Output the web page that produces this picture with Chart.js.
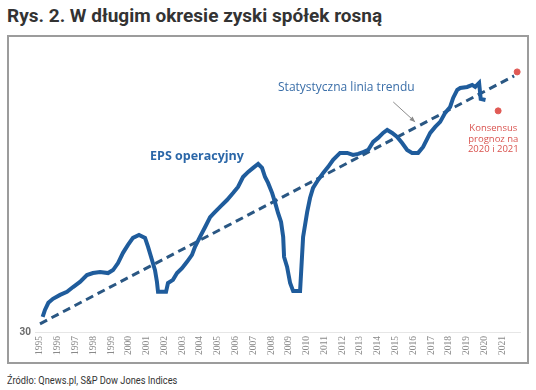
<!DOCTYPE html>
<html>
<head>
<meta charset="utf-8">
<script src="https://cdn.jsdelivr.net/npm/chart.js@4.4.0/dist/chart.umd.min.js"></script>
<style>
  body { margin: 0; width: 536px; height: 390px; background: #fff; position: relative; overflow: hidden; }
  #title { position: absolute; left: 7px; top: 4px; font: bold 19px Roboto, sans-serif; color: #333; white-space: nowrap; }
  #box { position: absolute; left: 7px; top: 35px; width: 518px; height: 325px; border: 2px solid #9c9c9c; }
  #source { position: absolute; left: 7px; top: 374px; font: 11px Roboto, sans-serif; color: #333; white-space: nowrap;
            transform: scaleX(0.84); transform-origin: left center; }
</style>
</head>
<body>
<div id="title">Rys. 2. W długim okresie zyski spółek rosną</div>
<div id="box"><canvas id="chart" width="518" height="325"></canvas></div>
<div id="source">Źródło: Qnews.pl, S&amp;P Dow Jones Indices</div>
<script>
"use strict";

// lata na osi X
const years = [1995, 1996, 1997, 1998, 1999, 2000, 2001, 2002, 2003, 2004, 2005, 2006, 2007,
    2008, 2009, 2010, 2011, 2012, 2013, 2014, 2015, 2016, 2017, 2018, 2019, 2020, 2021];

// EPS operacyjny (odczyt z wykresu)
const epsX = [1995.15, 1995.28, 1995.47, 1995.73, 1996.13, 1996.52, 1996.86, 1997.25, 1997.64, 1997.98,
    1998.38, 1998.83, 1999.11, 1999.39, 1999.67, 1999.95, 2000.23, 2000.57, 2000.91, 2001.08,
    2001.30, 2001.47, 2001.58, 2001.64, 2002.09, 2002.20, 2002.48, 2002.71, 2002.99, 2003.27,
    2003.55, 2003.72, 2004.00, 2004.29, 2004.57, 2004.85, 2005.13, 2005.52, 2005.86, 2006.14,
    2006.42, 2006.71, 2006.99, 2007.27, 2007.49, 2007.66, 2007.83, 2008.06, 2008.23, 2008.39,
    2008.56, 2008.68, 2008.73, 2008.90, 2009.07, 2009.24, 2009.63, 2009.80, 2010.03, 2010.19,
    2010.36, 2010.64, 2010.93, 2011.21, 2011.49, 2011.88, 2012.28, 2012.61, 2012.90, 2013.18,
    2013.46, 2013.74, 2014.02, 2014.30, 2014.53, 2014.81, 2015.09, 2015.37, 2015.65, 2015.93,
    2016.27, 2016.55, 2016.95, 2017.23, 2017.51, 2017.79, 2018.07, 2018.24, 2018.47, 2018.64,
    2019.03, 2019.31, 2019.48, 2019.70, 2019.79, 2020.06];
const epsY = [33.2, 34.8, 36.5, 37.5, 38.5, 39.3, 40.6, 42.0, 44.0, 44.6,
    44.9, 44.6, 45.5, 47.7, 51.1, 53.9, 56.5, 57.6, 56.5, 53.2,
    48.7, 45.5, 42.0, 39.3, 39.3, 41.7, 42.6, 44.6, 46.1, 48.1,
    50.4, 53.2, 56.9, 60.8, 65.0, 67.3, 69.6, 72.9, 76.4, 79.6,
    85.1, 88.1, 90.5, 92.9, 90.5, 85.1, 81.8, 76.4, 71.5, 66.8,
    62.9, 56.9, 49.7, 46.5, 41.7, 39.5, 39.5, 56.9, 67.3, 73.9,
    79.1, 83.4, 87.5, 91.1, 95.5, 100.1, 100.1, 98.7, 99.4, 100.7,
    102.1, 107.8, 110.7, 114.5, 116.8, 114.5, 111.4, 107.0, 102.1, 100.1,
    100.1, 104.2, 114.5, 119.2, 123.3, 131.0, 136.3, 144.9, 152.9, 154.9,
    156.0, 158.1, 156.0, 160.3, 143.9, 142.9];

// statystyczna linia trendu
const trendX = [1995.0, 2021.67];
const trendY = [31.7, 168.0];

// konsensus prognoz 2020 i 2021
const consensusX = [2020.77, 2021.84];
const consensusY = [132.8, 172.6];

const yTicks = [30];

const toPoints = (xs, ys) => xs.map((x, i) => ({ x: x, y: ys[i] }));

const notes = {
    id: 'notes',
    afterDatasetsDraw(chart) {
        const { ctx, scales: { x, y } } = chart;
        ctx.save();
        ctx.textBaseline = 'middle';

        ctx.fillStyle = '#2b67a8';
        ctx.font = 'bold 12.5px "Open Sans", sans-serif';
        ctx.fillText('EPS operacyjny', x.getPixelForValue(2001.19), y.getPixelForValue(98));

        ctx.fillStyle = '#3a6ea8';
        ctx.font = '12px "Open Sans", sans-serif';
        ctx.fillText('Statystyczna linia trendu', x.getPixelForValue(2008.39), y.getPixelForValue(155));

        // strzałka
        const x1 = x.getPixelForValue(2014.87), y1 = y.getPixelForValue(141);
        const x2 = x.getPixelForValue(2016.10), y2 = y.getPixelForValue(123.3);
        const a = Math.atan2(y2 - y1, x2 - x1);
        ctx.strokeStyle = '#8a8a8a';
        ctx.fillStyle = '#8a8a8a';
        ctx.lineWidth = 1;
        ctx.beginPath();
        ctx.moveTo(x1, y1);
        ctx.lineTo(x2, y2);
        ctx.stroke();
        ctx.beginPath();
        ctx.moveTo(x2, y2);
        ctx.lineTo(x2 - 6 * Math.cos(a - 0.4), y2 - 6 * Math.sin(a - 0.4));
        ctx.lineTo(x2 - 6 * Math.cos(a + 0.4), y2 - 6 * Math.sin(a + 0.4));
        ctx.closePath();
        ctx.fill();

        ctx.fillStyle = '#d9534f';
        ctx.font = '9.5px "Open Sans", sans-serif';
        ctx.textAlign = 'center';
        const cx = x.getPixelForValue(2020.5);
        const cy = y.getPixelForValue(118.4);
        ctx.fillText('Konsensus', cx, cy);
        ctx.fillText('prognoz na', cx, cy + 11);
        ctx.fillText('2020 i 2021', cx, cy + 21);
        ctx.restore();
    }
};

new Chart(document.getElementById('chart').getContext('2d'), {
    type: 'line',
    data: {
        datasets: [
            {
                label: 'EPS operacyjny',
                data: toPoints(epsX, epsY),
                borderColor: '#1f5c9c',
                borderWidth: 4,
                pointRadius: 0,
                fill: false
            },
            {
                label: 'Statystyczna linia trendu',
                data: toPoints(trendX, trendY),
                borderColor: '#2a5783',
                borderWidth: 3,
                borderDash: [8, 5],
                pointRadius: 0,
                fill: false
            },
            {
                label: 'Konsensus',
                type: 'scatter',
                data: toPoints(consensusX, consensusY),
                backgroundColor: '#e05a55',
                borderColor: '#e05a55',
                pointRadius: 3,
                clip: false
            }
        ]
    },
    options: {
        responsive: false,
        animation: false,
        layout: { padding: { left: 0, right: 7, top: 13, bottom: 0 } },
        plugins: { legend: { display: false }, tooltip: { enabled: false } },
        scales: {
            x: {
                type: 'linear',
                min: 1994.72,
                max: 2022,
                grid: { display: false, drawTicks: false },
                border: { color: '#e6e6e6', width: 1 },
                afterBuildTicks: s => { s.ticks = years.map(v => ({ value: v })); },
                afterFit: s => { s.height = 30; s.paddingLeft = 0; s.paddingRight = 0; },
                ticks: {
                    autoSkip: false,
                    minRotation: 90,
                    maxRotation: 90,
                    padding: 4,
                    color: '#8a8a8a',
                    font: { family: '"Liberation Serif", serif', size: 9.5 },
                    callback: v => String(v)
                }
            },
            y: {
                type: 'logarithmic',
                min: 30,
                max: 200,
                grid: { display: false, drawTicks: false },
                border: { display: false },
                afterBuildTicks: s => { s.ticks = yTicks.map(v => ({ value: v })); },
                afterFit: s => { s.width = 26; },
                ticks: {
                    padding: 4,
                    color: '#6b6b6b',
                    font: { family: 'Roboto, sans-serif', size: 10, weight: 'bold' },
                    callback: v => String(v)
                }
            }
        }
    },
    plugins: [notes]
});
</script>
</body>
</html>
